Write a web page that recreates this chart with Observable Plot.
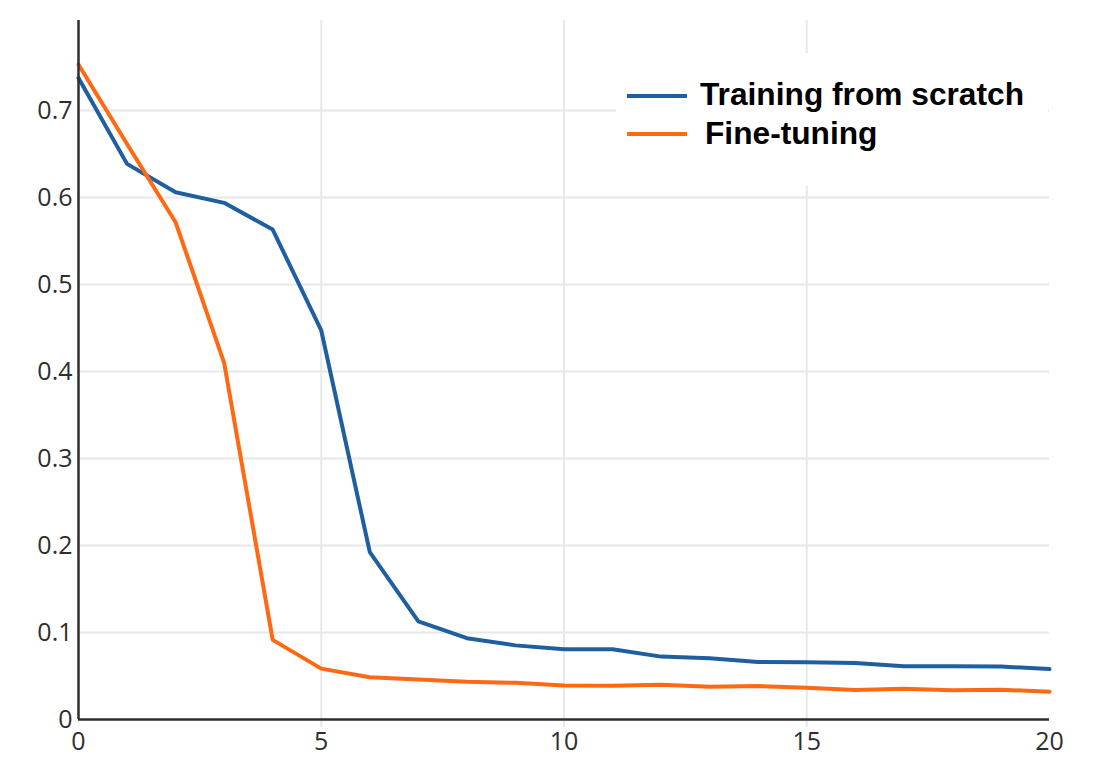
<!DOCTYPE html>
<html>
<head>
<meta charset="utf-8">
<script src="https://cdn.jsdelivr.net/npm/d3@7"></script>
<script src="https://cdn.jsdelivr.net/npm/@observablehq/plot@0.6"></script>
<style>
  html, body { margin: 0; padding: 0; background: #fff; }
  #wrap { position: relative; width: 1114px; height: 776px; }
  #legend { position: absolute; left: 616px; top: 53px; width: 432px; height: 133px; background: #fff;
            font-family: "Liberation Sans", Arial, sans-serif; font-weight: bold; font-size: 31.7px; color: #000; }
  .item { position: absolute; white-space: nowrap; }
  .swatch { position: absolute; width: 60px; height: 4px; }
</style>
</head>
<body>
<div id="wrap"></div>
<script>
const epochs = d3.range(0, 21);
const seriesNames = ["Training from scratch", "Fine-tuning"];
const seriesColors = ["#1f5f9f", "#ff6913"];
const scratchValues = [0.7375, 0.6387, 0.6061, 0.5939, 0.5632, 0.4472, 0.1925, 0.1128, 0.0935, 0.0852,
  0.0808, 0.0808, 0.0723, 0.0704, 0.0662, 0.0658, 0.0650, 0.0612, 0.0612, 0.0608, 0.0580];
const fineValues = [0.7529, 0.6615, 0.5716, 0.4100, 0.0915, 0.0585, 0.0485, 0.0460, 0.0433, 0.0422,
  0.0392, 0.0388, 0.0400, 0.0377, 0.0385, 0.0365, 0.0338, 0.0354, 0.0335, 0.0342, 0.0320];
const xTicks = [0, 5, 10, 15, 20];
const xGrid = [5, 10, 15];
const yTicks = [0, 0.1, 0.2, 0.3, 0.4, 0.5, 0.6, 0.7];
const yGrid = [0.1, 0.2, 0.3, 0.4, 0.5, 0.6, 0.7];

const data = [];
epochs.forEach((e, i) => {
  data.push({epoch: e, value: scratchValues[i], series: seriesNames[0]});
  data.push({epoch: e, value: fineValues[i], series: seriesNames[1]});
});

const chart = Plot.plot({
  width: 1114,
  height: 776,
  marginLeft: 78,
  marginRight: 65,
  marginTop: 20,
  marginBottom: 57,
  style: {fontFamily: "'Open Sans', sans-serif", fontSize: "25px", color: "#2e2e2e", background: "#fff"},
  x: {domain: [0, 20]},
  y: {domain: [0, 0.8035]},
  color: {domain: seriesNames, range: seriesColors},
  marks: [
    Plot.ruleX(xGrid, {stroke: "#e8e8e8", strokeWidth: 2, insetBottom: -8}),
    Plot.ruleY(yGrid, {stroke: "#e8e8e8", strokeWidth: 2}),
    Plot.line(data, {x: "epoch", y: "value", z: "series", stroke: "series", strokeWidth: 4}),
    Plot.axisX({ticks: xTicks, tickSize: 0, tickPadding: 13, label: null, tickFormat: d => String(d), fontSize: 25, fill: "#2e2e2e"}),
    Plot.axisY({ticks: yTicks, tickSize: 0, tickPadding: 6, label: null, tickFormat: d => d === 0 ? "0" : d3.format(".1f")(d), fontSize: 25, fill: "#2e2e2e"}),
    Plot.ruleX([0], {stroke: "#2e2e2e", strokeWidth: 2.5}),
    Plot.ruleY([0], {stroke: "#2e2e2e", strokeWidth: 2.5})
  ]
});

const wrap = document.getElementById("wrap");
wrap.appendChild(chart);

const legend = document.createElement("div");
legend.id = "legend";
const pos = [{lineTop: 41, textLeft: 84, textTop: 23}, {lineTop: 79, textLeft: 89, textTop: 62}];
seriesNames.forEach((name, i) => {
  const sw = document.createElement("div");
  sw.className = "swatch";
  sw.style.left = "11px";
  sw.style.top = pos[i].lineTop + "px";
  sw.style.background = seriesColors[i];
  legend.appendChild(sw);
  const t = document.createElement("div");
  t.className = "item";
  t.style.left = pos[i].textLeft + "px";
  t.style.top = pos[i].textTop + "px";
  t.textContent = name;
  legend.appendChild(t);
});
wrap.appendChild(legend);
</script>
</body>
</html>
